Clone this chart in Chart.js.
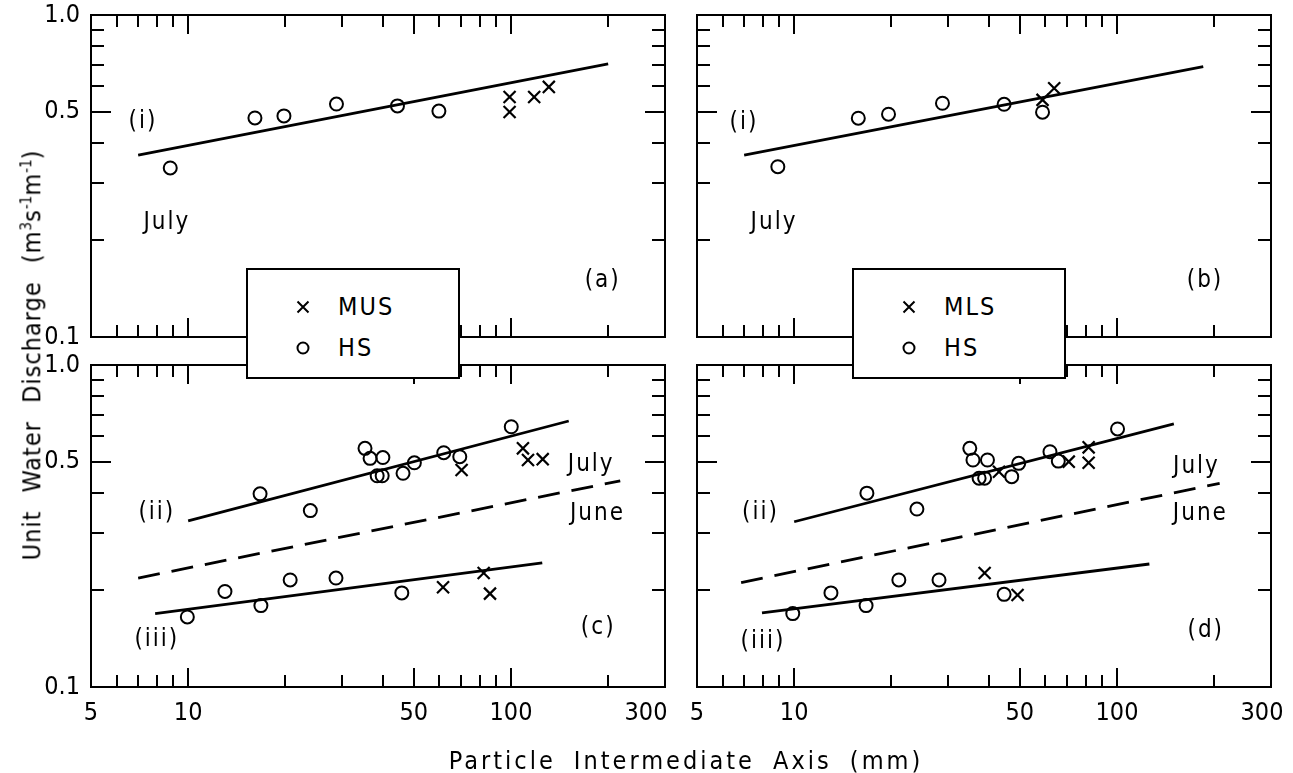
<!DOCTYPE html>
<html><head><meta charset="utf-8">
<script src="https://cdn.jsdelivr.net/npm/chart.js@4.4.1/dist/chart.umd.min.js"></script>
<style>
html,body{margin:0;padding:0;background:#fff;}
#wrap{position:relative;width:1293px;height:773px;overflow:hidden;background:#fff;}
canvas.p{position:absolute;left:0;top:0;pointer-events:none;}
.f{font-family:'DejaVu Sans Condensed','Liberation Sans Narrow','DejaVu Sans',sans-serif;color:#000;}
.legend{position:absolute;background:#fff;border:2px solid #000;box-sizing:border-box;z-index:5;}
.legend .row{position:absolute;left:0;width:100%;height:30px;line-height:30px;font-size:25px;letter-spacing:2px;}
.legend svg{position:absolute;left:48px;top:8px;}
.legend .txt{position:absolute;left:90px;}
#ytitle{position:absolute;left:32px;top:355px;transform:translate(-50%,-50%) rotate(-90deg);white-space:nowrap;font-size:25px;letter-spacing:1px;word-spacing:10px;z-index:6;}
#ytitle sup{font-size:15px;letter-spacing:0;}
#xtitle{position:absolute;left:686px;top:760px;transform:translate(-50%,-50%);white-space:nowrap;font-size:25px;letter-spacing:3px;word-spacing:8px;z-index:6;}
</style></head>
<body><div id="wrap">
<canvas id="ca" class="p" width="1293" height="773"></canvas>
<canvas id="cb" class="p" width="1293" height="773"></canvas>
<canvas id="cc" class="p" width="1293" height="773"></canvas>
<canvas id="cd" class="p" width="1293" height="773"></canvas>
<div class="legend f" style="left:246px;top:268px;width:214px;height:111px;">
  <div class="row" style="top:22px;"><svg width="14" height="14"><path d="M1.5 1.5 L12.5 12.5 M12.5 1.5 L1.5 12.5" stroke="#000" stroke-width="2"/></svg><span class="txt">MUS</span></div>
  <div class="row" style="top:63px;"><svg width="14" height="14"><circle cx="7" cy="7" r="5.5" fill="none" stroke="#000" stroke-width="2"/></svg><span class="txt">HS</span></div>
</div>
<div class="legend f" style="left:852px;top:268px;width:214px;height:111px;">
  <div class="row" style="top:22px;"><svg width="14" height="14"><path d="M1.5 1.5 L12.5 12.5 M12.5 1.5 L1.5 12.5" stroke="#000" stroke-width="2"/></svg><span class="txt">MLS</span></div>
  <div class="row" style="top:63px;"><svg width="14" height="14"><circle cx="7" cy="7" r="5.5" fill="none" stroke="#000" stroke-width="2"/></svg><span class="txt">HS</span></div>
</div>
<div id="ytitle" class="f">Unit Water Discharge (m<sup>3</sup>s<sup>-1</sup>m<sup>-1</sup>)</div>
<div id="xtitle" class="f">Particle Intermediate Axis (mm)</div>
</div>
<script>
// ---------------- data ----------------
const xTickValues = [5, 10, 50, 100, 300];
const xTickText   = ['5', '10', '50', '100', '300'];
const yTickValues = [0.1, 0.5, 1.0];
const yTickText   = ['0.1', '0.5', '1.0'];
const xMinorTicks = [6, 7, 8, 9, 20, 30, 40, 60, 70, 80, 90, 200];
const xMajorTicks = [10, 50, 100];
const yMinorTicks = [0.2, 0.3, 0.4, 0.6, 0.7, 0.8, 0.9];
const yMajorTicks = [0.5];

// panel (a) : MUS vs HS, July
const a_HS_x  = [8.8, 16.1, 19.8, 28.8, 44.5, 59.8];
const a_HS_y  = [0.335, 0.479, 0.486, 0.529, 0.522, 0.503];
const a_MUS_x = [99, 99, 118, 131];
const a_MUS_y = [0.556, 0.500, 0.556, 0.598];
const a_lineI_x = [7, 200];
const a_lineI_y = [0.367, 0.705];

// panel (b) : MLS vs HS, July
const b_HS_x  = [8.9, 15.8, 19.6, 28.8, 44.7, 58.8];
const b_HS_y  = [0.338, 0.478, 0.492, 0.532, 0.528, 0.499];
const b_MLS_x = [58.8, 63.9];
const b_MLS_y = [0.545, 0.592];
const b_lineI_x = [7, 185];
const b_lineI_y = [0.367, 0.691];

// panel (c) : MUS vs HS, July (ii), June, (iii)
const c_HS_x  = [16.7, 23.9, 35.3, 36.6, 40.1, 38.5, 39.9, 46.3, 50.2, 61.9, 69.4, 100.2, 9.94, 13.0, 16.8, 20.7, 28.7, 45.9];
const c_HS_y  = [0.398, 0.353, 0.551, 0.513, 0.516, 0.453, 0.453, 0.461, 0.497, 0.534, 0.519, 0.643, 0.165, 0.198, 0.179, 0.215, 0.218, 0.196];
const c_MUS_x = [70.3, 108.9, 112.9, 125.4, 61.6, 82.3, 86.1];
const c_MUS_y = [0.472, 0.551, 0.507, 0.510, 0.204, 0.226, 0.195];
const c_lineII_x  = [10, 151];
const c_lineII_y  = [0.328, 0.670];
const c_June_x    = [7.0, 218];
const c_June_y    = [0.218, 0.437];
const c_lineIII_x = [7.9, 125];
const c_lineIII_y = [0.169, 0.243];

// panel (d) : MLS vs HS, July (ii), June, (iii)
const d_HS_x  = [16.8, 24.0, 35.0, 35.8, 39.7, 37.4, 38.9, 47.2, 49.6, 62.0, 65.8, 100.4, 9.9, 13.0, 16.7, 21.1, 28.1, 44.7];
const d_HS_y  = [0.400, 0.357, 0.551, 0.507, 0.507, 0.445, 0.445, 0.450, 0.495, 0.538, 0.503, 0.633, 0.169, 0.196, 0.179, 0.215, 0.215, 0.194];
const d_MLS_x = [43.1, 70.9, 81.7, 81.7, 38.9, 49.2];
const d_MLS_y = [0.466, 0.501, 0.555, 0.497, 0.226, 0.193];
const d_lineII_x  = [10, 150];
const d_lineII_y  = [0.326, 0.656];
const d_June_x    = [6.85, 208];
const d_June_y    = [0.211, 0.429];
const d_lineIII_x = [7.95, 126];
const d_lineIII_y = [0.170, 0.241];

// ---------------- helpers ----------------
const FONT = "'DejaVu Sans Condensed','Liberation Sans Narrow','DejaVu Sans',sans-serif";
const zip = (xs, ys) => xs.map((x, i) => ({x: x, y: ys[i]}));

function circles(xs, ys) {
  return {data: zip(xs, ys), pointStyle: 'circle', pointRadius: 6.5, pointBorderWidth: 2,
          borderColor: '#000', backgroundColor: 'rgba(0,0,0,0)', showLine: false};
}
function crosses(xs, ys) {
  return {data: zip(xs, ys), pointStyle: 'crossRot', pointRadius: 8.5, pointBorderWidth: 2.2,
          borderColor: '#000', backgroundColor: '#000', showLine: false};
}
function fitLine(xs, ys, dashed) {
  return {data: zip(xs, ys), showLine: true, pointRadius: 0, borderWidth: 2.8,
          borderColor: '#000', borderDash: dashed ? [22, 12] : [], fill: false};
}

const framePlugin = {
  id: 'frame',
  afterDatasetsDraw(chart) {
    const ctx = chart.ctx, a = chart.chartArea;
    const xs = chart.scales.x, ys = chart.scales.y;
    const o = chart.options.plugins.frame;
    ctx.save();
    ctx.strokeStyle = '#000';
    ctx.lineWidth = 2;
    ctx.lineCap = 'butt';
    const tick = (x1, y1, x2, y2) => { ctx.beginPath(); ctx.moveTo(x1, y1); ctx.lineTo(x2, y2); ctx.stroke(); };
    const xt = (vals, len) => vals.forEach(v => {
      const px = Math.round(xs.getPixelForValue(v));
      tick(px, a.bottom, px, a.bottom - len);
      tick(px, a.top, px, a.top + len);
    });
    const yt = (vals, len) => vals.forEach(v => {
      const py = Math.round(ys.getPixelForValue(v));
      tick(a.left, py, a.left + len, py);
      tick(a.right, py, a.right - len, py);
    });
    xt(xMinorTicks, 12); xt(xMajorTicks, 19);
    yt(yMinorTicks, 13); yt(yMajorTicks, 20);
    ctx.strokeRect(a.left, a.top, a.right - a.left, a.bottom - a.top);
    ctx.fillStyle = '#000';
    // x tick labels (bottom panels), placed by the x scale
    if (o.xLabels) {
      ctx.font = '25px ' + FONT;
      ctx.textAlign = 'center';
      ctx.textBaseline = 'top';
      xTickValues.forEach((v, i) => {
        const shift = (i === xTickValues.length - 1) ? o.lastShift : 0;
        ctx.fillText(xTickText[i], xs.getPixelForValue(v) + shift, a.bottom + 14);
      });
    }
    // in-panel annotations
    const notes = o.notes || [];
    ctx.font = '24px ' + FONT;
    ctx.letterSpacing = '2px';
    ctx.textAlign = 'center';
    ctx.textBaseline = 'middle';
    notes.forEach(n => {
      ctx.fillText(n.text, xs.getPixelForValue(n.x) + 1, ys.getPixelForValue(n.y));
    });
    ctx.restore();
  }
};

function makePanel(id, area, showX, showY, lastShift, datasets, notes) {
  const W = 1293, H = 773, YW = 70, XH = 45;
  new Chart(document.getElementById(id), {
    type: 'scatter',
    data: {datasets: datasets},
    options: {
      responsive: false, animation: false, devicePixelRatio: 1,
      layout: {padding: {left: area.left - YW, right: W - area.right, top: area.top, bottom: H - area.bottom - XH}},
      plugins: {legend: {display: false}, tooltip: {enabled: false},
                frame: {notes: notes, xLabels: showX, lastShift: lastShift}},
      scales: {
        x: {
          type: 'logarithmic', min: 5, max: 300,
          grid: {display: false, drawTicks: false}, border: {display: false},
          afterBuildTicks: s => { s.ticks = xTickValues.map(v => ({value: v})); },
          afterFit: s => { s.height = XH; s.paddingLeft = 0; s.paddingRight = 0; },
          ticks: {display: false}
        },
        y: {
          type: 'logarithmic', min: 0.1, max: 1.0,
          grid: {display: false, drawTicks: false}, border: {display: false},
          afterBuildTicks: s => { s.ticks = yTickValues.map(v => ({value: v})); },
          afterFit: s => { s.width = YW; s.paddingTop = 0; s.paddingBottom = 0; },
          ticks: {display: showY, autoSkip: false, padding: 11, color: '#000',
                  font: {family: FONT, size: 25},
                  callback: (v) => { const i = yTickValues.indexOf(v); return i >= 0 ? yTickText[i] : ''; }}
        }
      }
    },
    plugins: [framePlugin]
  });
}

makePanel('ca', {left: 91, top: 15, right: 665, bottom: 337}, false, true, 0, [
  fitLine(a_lineI_x, a_lineI_y, false),
  circles(a_HS_x, a_HS_y),
  crosses(a_MUS_x, a_MUS_y)
], [
  {text: '(i)', x: 7.19, y: 0.465}, {text: 'July', x: 8.53, y: 0.227}, {text: '(a)', x: 191, y: 0.150}
]);

makePanel('cb', {left: 697, top: 15, right: 1271, bottom: 337}, false, false, 0, [
  fitLine(b_lineI_x, b_lineI_y, false),
  circles(b_HS_x, b_HS_y),
  crosses(b_MLS_x, b_MLS_y)
], [
  {text: '(i)', x: 6.94, y: 0.462}, {text: 'July', x: 8.6, y: 0.227}, {text: '(b)', x: 186, y: 0.150}
]);

makePanel('cc', {left: 91, top: 365, right: 665, bottom: 687}, true, true, -19, [
  fitLine(c_lineII_x, c_lineII_y, false),
  fitLine(c_June_x, c_June_y, true),
  fitLine(c_lineIII_x, c_lineIII_y, false),
  circles(c_HS_x, c_HS_y),
  crosses(c_MUS_x, c_MUS_y)
], [
  {text: '(ii)', x: 7.94, y: 0.347}, {text: '(iii)', x: 7.94, y: 0.1398},
  {text: 'July', x: 176, y: 0.489}, {text: 'June', x: 184, y: 0.345}, {text: '(c)', x: 185, y: 0.1527}
]);

makePanel('cd', {left: 697, top: 365, right: 1271, bottom: 687}, true, false, -9, [
  fitLine(d_lineII_x, d_lineII_y, false),
  fitLine(d_June_x, d_June_y, true),
  fitLine(d_lineIII_x, d_lineIII_y, false),
  circles(d_HS_x, d_HS_y),
  crosses(d_MLS_x, d_MLS_y)
], [
  {text: '(ii)', x: 7.81, y: 0.347}, {text: '(iii)', x: 7.95, y: 0.138},
  {text: 'July', x: 175, y: 0.484}, {text: 'June', x: 180, y: 0.345}, {text: '(d)', x: 187, y: 0.1497}
]);
</script>
</body></html>
